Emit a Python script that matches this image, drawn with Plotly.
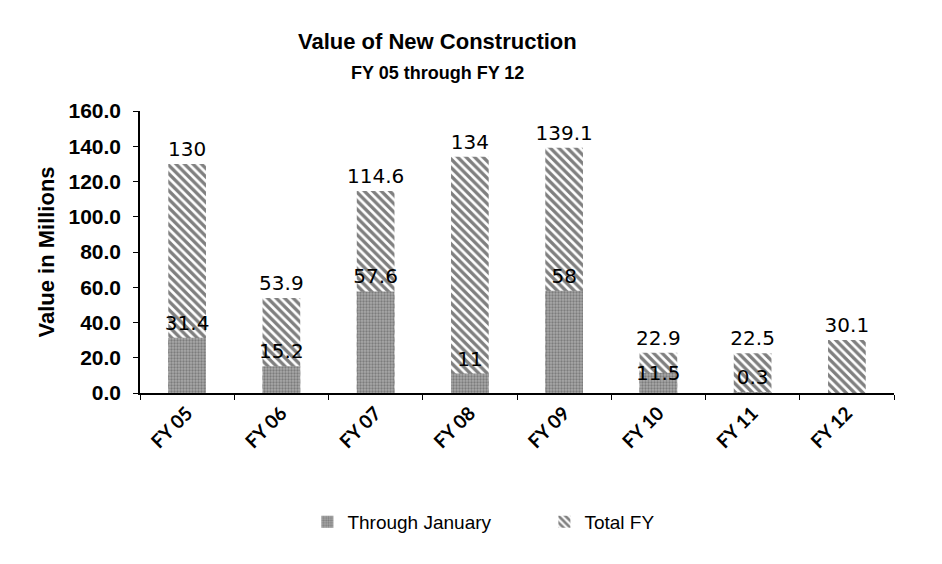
import plotly.graph_objects as go

categories = ["FY 05", "FY 06", "FY 07", "FY 08", "FY 09", "FY 10", "FY 11", "FY 12"]
through_january = [31.4, 15.2, 57.6, 11, 58, 11.5, 0.3, None]
total_fy = [130, 53.9, 114.6, 134, 139.1, 22.9, 22.5, 30.1]
y_ticks = [0, 20, 40, 60, 80, 100, 120, 140, 160]

# label placement style for the "Through January" labels (Excel nudged FY 10's label down)
tj_label_pos = ["outside", "outside", "outside", "outside", "outside", "none", "outside", "outside"]

label_font = dict(family="DejaVu Sans", size=20, color="black")

fig = go.Figure()
fig.add_trace(go.Bar(
    x=categories, y=total_fy, name="Total FY", legendrank=2,
    width=0.4,
    marker=dict(color="white", line=dict(width=0),
                pattern=dict(shape="\\", fgcolor="black", bgcolor="white", size=6, solidity=0.55)),
    text=[f"{v:g}" for v in total_fy], textposition="outside", textfont=label_font,
    constraintext="none", cliponaxis=False,
))
fig.add_trace(go.Bar(
    x=categories, y=through_january, name="Through January", legendrank=1,
    width=0.4,
    marker=dict(color="#9a9a9a", line=dict(width=0),
                pattern=dict(shape=".", fgcolor="#505050", bgcolor="#a8a8a8", size=3, solidity=0.45)),
    text=[("" if v is None else f"{v:g}") for v in through_january],
    textposition=tj_label_pos, textfont=label_font,
    constraintext="none", cliponaxis=False,
))

annotations = [
    dict(text="<b>Value of New Construction</b>", x=0.395, y=1.245, xref="paper", yref="paper",
         showarrow=False, font=dict(family="Liberation Sans", size=22, color="black"),
         xanchor="center", yanchor="middle"),
    dict(text="<b>FY 05 through FY 12</b>", x=0.395, y=1.133, xref="paper", yref="paper",
         showarrow=False, font=dict(family="Liberation Sans", size=18, color="black"),
         xanchor="center", yanchor="middle"),
]
for cat, v, pos in zip(categories, through_january, tj_label_pos):
    if pos == "none" and v is not None:
        annotations.append(dict(text=f"{v:g}", x=cat, y=v, xref="x", yref="y", showarrow=False,
                                font=label_font, xanchor="center", yanchor="middle"))

fig.update_layout(
    width=942, height=564,
    barmode="overlay",
    paper_bgcolor="white", plot_bgcolor="white",
    margin=dict(l=132, r=56, t=103, b=179),
    showlegend=True,
    legend=dict(orientation="h", x=0.222, y=-0.457, xanchor="left", yanchor="middle",
                font=dict(family="Liberation Sans", size=19, color="black"),
                traceorder="normal", entrywidth=192, entrywidthmode="pixels", itemwidth=30),
    annotations=annotations,
    font=dict(family="Liberation Sans", color="black"),
)
fig.update_yaxes(
    range=[0, 160], tickvals=y_ticks, ticktext=[f"<b>{v:.1f}</b>" for v in y_ticks],
    showline=True, linecolor="black", linewidth=1.5,
    ticks="outside", ticklen=5, tickcolor="black", ticklabelstandoff=8,
    showgrid=False, zeroline=False,
    tickfont=dict(family="Liberation Sans", size=21, color="black"),
    title=dict(text="<b>Value in Millions</b>", standoff=8,
               font=dict(family="Liberation Sans", size=22, color="black")),
)
fig.update_xaxes(
    showline=True, linecolor="black", linewidth=1.5,
    ticks="outside", ticklen=5, tickcolor="black", tickson="boundaries",
    tickangle=-45, showgrid=False,
    tickfont=dict(family="Lato", size=19, color="black", weight="bold"),
)

fig.write_html("out.html")
